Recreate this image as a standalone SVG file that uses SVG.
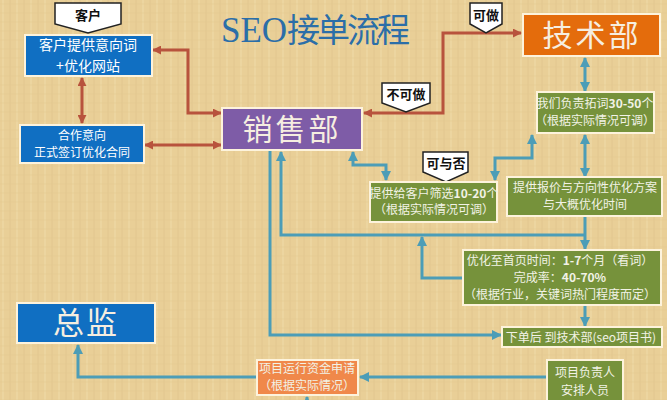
<svg xmlns="http://www.w3.org/2000/svg" width="667" height="400" viewBox="0 0 667 400">
<defs>
<pattern id="tex" width="14" height="9" patternUnits="userSpaceOnUse">
<rect width="14" height="9" fill="#e9cf97"/>
<line x1="3" y1="0" x2="3" y2="9" stroke="#efd9a6" stroke-width="1.2"/>
<line x1="10" y1="0" x2="10" y2="9" stroke="#e0c48c" stroke-width="0.8"/>
<line x1="0" y1="4" x2="14" y2="4" stroke="#e3c991" stroke-width="0.6"/>
</pattern>
<marker id="ar" viewBox="0 0 10 10" refX="9" refY="5" markerWidth="9" markerHeight="9" markerUnits="userSpaceOnUse" orient="auto-start-reverse">
<path d="M0,0 L10,5 L0,10 z" fill="#b8533d"/>
</marker>
<marker id="at" viewBox="0 0 10 10" refX="9" refY="5" markerWidth="10" markerHeight="10" markerUnits="userSpaceOnUse" orient="auto-start-reverse">
<path d="M0,0 L10,5 L0,10 z" fill="#4c9db7"/>
</marker>
<style>
.red{fill:none;stroke:#b8533d;stroke-width:3}
.teal{fill:none;stroke:#4c9db7;stroke-width:3}
.box{stroke:#fdf3dc;stroke-width:2}
.blue{fill:#106fc2}
.purple{fill:#7e5ca7}
.green{fill:#76923b}
.orange{fill:#e46c0c}
.orange2{fill:#f0884a}
.call{fill:#ffffff;stroke:#222;stroke-width:1.5}
text{font-family:"Noto Sans CJK SC","Liberation Sans",sans-serif;text-anchor:middle}
text.title{font-family:"Liberation Serif","Noto Sans CJK SC",serif;font-size:33px;fill:#2b6ea8}
.w{fill:#ffffff}
.g{fill:#f2f2e6;font-size:12px}
.ct{fill:#111;font-weight:bold;font-size:13px}
.big{fill:#f6eee0}
</style>
</defs>
<rect width="667" height="400" fill="url(#tex)"/>

<text class="title" x="314" y="42"><tspan font-size="35">SEO</tspan><tspan letter-spacing="-3">接单流程</tspan></text>

<g id="connectors">
<path class="red" d="M153,50 H188 V113 H221" marker-start="url(#ar)" marker-end="url(#ar)"/>
<path class="red" d="M82,78 V123" marker-start="url(#ar)" marker-end="url(#ar)"/>
<path class="red" d="M145,145 H221" marker-start="url(#ar)" marker-end="url(#ar)"/>
<path class="red" d="M521,33 H443 V113 H364" marker-start="url(#ar)" marker-end="url(#ar)"/>
<path class="teal" d="M585,58 V91" marker-start="url(#at)" marker-end="url(#at)"/>
<path class="teal" d="M585,135 V177" marker-start="url(#at)" marker-end="url(#at)"/>
<path class="teal" d="M532,135 V158 H495 V180" marker-start="url(#at)" marker-end="url(#at)"/>
<path class="teal" d="M353,152 V165 H386 V180" marker-start="url(#at)" marker-end="url(#at)"/>
<path class="teal" d="M281,152 V235 H585" marker-start="url(#at)"/>
<path class="teal" d="M585,217 V249" marker-end="url(#at)"/>
<path class="teal" d="M463,278 H422 V237" marker-end="url(#at)"/>
<path class="teal" d="M585,306 V326" marker-end="url(#at)"/>
<path class="teal" d="M270,151 V335 H501" marker-end="url(#at)"/>
<path class="teal" d="M547,377 H360" marker-end="url(#at)"/>
<path class="teal" d="M256,377 H78 V345" marker-end="url(#at)"/>
<path class="teal" d="M307,402 V397" marker-end="url(#at)"/>
</g>

<g id="kehu-tag">
<path class="call" d="M55,3 H121 V24 L88,33 L55,24 Z"/>
<text class="ct" x="88" y="20" font-size="14">客户</text>
</g>
<g id="kehu-box">
<rect class="box blue" x="25" y="35" width="127" height="41"/>
<text class="w" x="88" y="50" font-size="14">客户提供意向词</text>
<text class="w" x="88" y="71" font-size="14">+优化网站</text>
</g>
<g id="hezuo">
<rect class="box blue" x="20" y="125" width="124" height="38"/>
<text class="w" x="82" y="140" font-size="12">合作意向</text>
<text class="w" x="82" y="157" font-size="12">正式签订优化合同</text>
</g>
<g id="xiaoshou">
<rect class="box purple" x="222" y="108" width="140" height="42"/>
<text class="big" x="292" y="140" font-size="30" letter-spacing="3">销售部</text>
</g>
<g id="bukezuo-tag">
<path class="call" d="M382,83 H430 V103 L406,112 L382,103 Z"/>
<text class="ct" x="406" y="99">不可做</text>
</g>
<g id="kezuo-tag">
<path class="call" d="M470,3 H502 V24 L486,33 L470,24 Z"/>
<text class="ct" x="486" y="20">可做</text>
</g>
<g id="jishu">
<rect class="box orange" x="523" y="14" width="137" height="42"/>
<text class="big" x="592" y="46" font-size="30" letter-spacing="3">技术部</text>
</g>
<g id="tuoci">
<rect class="box green" x="537" y="92" width="117" height="41"/>
<text class="g" x="595" y="108" font-size="11.5">我们负责拓词<tspan font-weight="bold">30-50</tspan>个</text>
<text class="g" x="595" y="125" font-size="11.5">（根据实际情况可调）</text>
</g>
<g id="keyufou-tag">
<path class="call" d="M423,152 H468 V172 L446,182 L423,172 Z"/>
<text class="ct" x="446" y="168">可与否</text>
</g>
<g id="shaixuan">
<rect class="box green" x="370" y="182" width="127" height="40"/>
<text class="g" x="434" y="198" font-size="11.5">提供给客户筛选<tspan font-weight="bold">10-20</tspan>个</text>
<text class="g" x="434" y="214" font-size="11.5">（根据实际情况可调）</text>
</g>
<g id="baojia">
<rect class="box green" x="507" y="177" width="155" height="39"/>
<text class="g" x="585" y="192">提供报价与方向性优化方案</text>
<text class="g" x="585" y="209">与大概优化时间</text>
</g>
<g id="shijian">
<rect class="box green" x="463" y="250" width="198" height="55"/>
<text class="g" x="560" y="265" font-size="11.5">优化至首页时间：<tspan font-weight="bold">1-7</tspan>个月（看词）</text>
<text class="g" x="560" y="282" font-size="11.5">完成率：<tspan font-weight="bold">40-70%</tspan></text>
<text class="g" x="560" y="299" font-size="11.5">（根据行业，关键词热门程度而定）</text>
</g>
<g id="xiadan">
<rect class="box green" x="502" y="327" width="160" height="20"/>
<text class="g" x="581" y="342">下单后 到技术部(seo项目书)</text>
</g>
<g id="fuzeren">
<rect class="box green" x="547" y="360" width="76" height="44"/>
<text class="g" x="585" y="377">项目负责人</text>
<text class="g" x="585" y="395">安排人员</text>
</g>
<g id="zijin">
<rect class="box orange2" x="257" y="360" width="101" height="35"/>
<text class="g" x="307" y="373" font-size="10.5">项目运行资金申请</text>
<text class="g" x="307" y="390" font-size="10.5">（根据实际情况）</text>
</g>
<g id="zongjian">
<rect class="box blue" x="17" y="303" width="138" height="40"/>
<text class="big" x="86" y="334" font-size="31" letter-spacing="2">总监</text>
</g>
</svg>
